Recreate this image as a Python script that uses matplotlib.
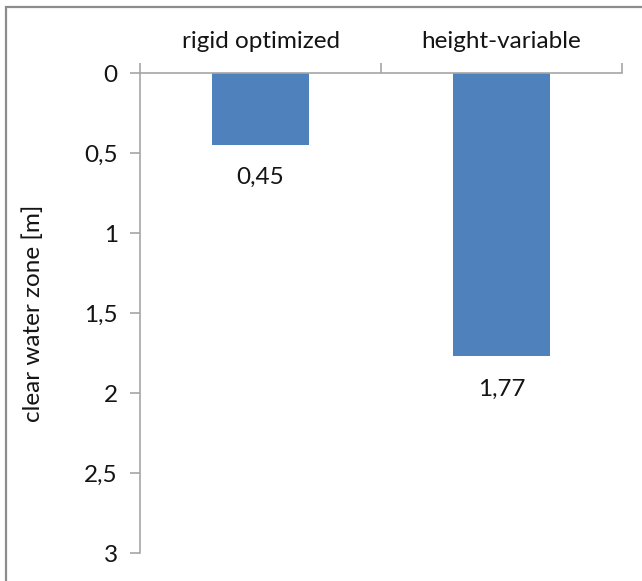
import numpy as np
import matplotlib.pyplot as plt
from matplotlib.patches import Rectangle

plt.rcParams['font.family'] = ['Lato', 'DejaVu Sans']

categories = ['rigid optimized', 'height-variable']
clear_zone = [0.45, 1.77]
value_labels = ['0,45', '1,77']
y_ticks = [0, 0.5, 1, 1.5, 2, 2.5, 3]
y_tick_labels = ['0', '0,5', '1', '1,5', '2', '2,5', '3']

axis_grey = '#a6a6a6'
text_col = '#141414'
fs = 17.5

fig = plt.figure(figsize=(6.42, 5.81), dpi=100)
# chart area border
fig.patches.append(Rectangle((6 / 642, -0.1), 1.2, (581 - 7) / 581 + 0.1,
                             transform=fig.transFigure, fill=False,
                             edgecolor='#8c8c8c', linewidth=1.6))

ax = fig.add_axes([140 / 642, 28 / 581, 482 / 642, 480 / 581])
x = np.arange(len(categories)) + 0.5
ax.bar(x, clear_zone, width=0.4, color='#4f81bd')

for xi, v, lab in zip(x, clear_zone, value_labels):
    ax.annotate(lab, (xi, v), xytext=(0, -16), textcoords='offset points',
                ha='center', va='top', fontsize=fs, color=text_col)

ax.set_xlim(0, len(categories))
ax.set_ylim(3, 0)
ax.set_yticks(y_ticks)
ax.set_yticklabels(y_tick_labels)

ax.xaxis.tick_top()
ax.set_xticks(np.arange(len(categories) + 1))
ax.set_xticklabels([])
ax.set_xticks(x, minor=True)
ax.set_xticklabels(categories, minor=True)
ax.tick_params(axis='x', which='major', direction='out', length=7,
               color=axis_grey, width=1.2)
ax.tick_params(axis='x', which='minor', length=0, pad=15, labelsize=fs,
               labelcolor=text_col)
ax.tick_params(axis='y', direction='out', length=7, color=axis_grey,
               width=1.2, labelsize=fs, labelcolor=text_col, pad=9)

for side in ['bottom', 'right']:
    ax.spines[side].set_visible(False)
for side in ['top', 'left']:
    ax.spines[side].set_color(axis_grey)
    ax.spines[side].set_linewidth(1.2)

ax.set_ylabel('clear water zone [m]', fontsize=fs, color=text_col)
ax.yaxis.set_label_coords(-0.2, 0.5)

fig.savefig('out.png', dpi=100)
